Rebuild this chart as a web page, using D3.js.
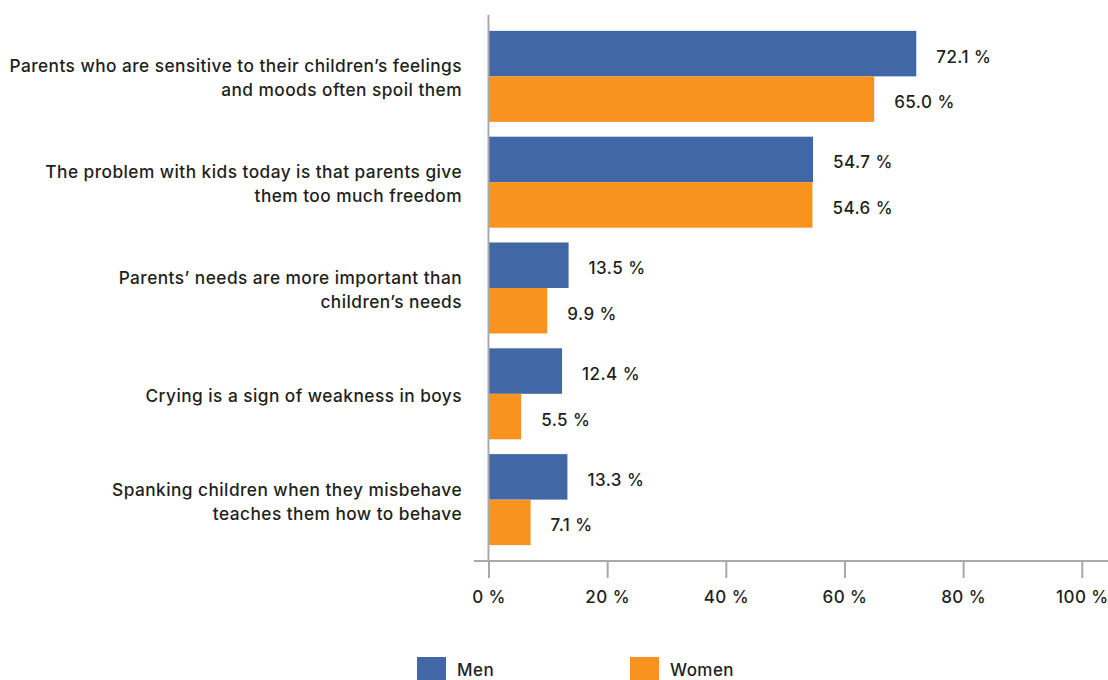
<!DOCTYPE html>
<html>
<head>
<meta charset="utf-8">
<script src="https://cdn.jsdelivr.net/npm/d3@7/dist/d3.min.js"></script>
<style>
  html, body { margin: 0; padding: 0; background: #fff; }
  svg { display: block; }
  text { font-family: Inter, "Noto Sans", sans-serif; fill: #231f20; font-weight: 500; letter-spacing: 0.45px; }
</style>
</head>
<body>
<svg id="chart" width="1108" height="680"></svg>
<script>
// Survey statements (each label split into its display lines)
const categories = [
  ["Parents who are sensitive to their children\u2019s feelings", "and moods often spoil them"],
  ["The problem with kids today is that parents give", "them too much freedom"],
  ["Parents\u2019 needs are more important than", "children\u2019s needs"],
  ["Crying is a sign of weakness in boys"],
  ["Spanking children when they misbehave", "teaches them how to behave"]
];
const seriesNames = ["Men", "Women"];
const menValues = [72.1, 54.7, 13.5, 12.4, 13.3];
const womenValues = [65.0, 54.6, 9.9, 5.5, 7.1];
const tickValues = [0, 20, 40, 60, 80, 100];
const colors = ["#4267a6", "#f7931e"];

const fontSize = 17;
const svg = d3.select("#chart");

const x = d3.scaleLinear().domain([0, 100]).range([488.5, 1081.8]);
const y = d3.scaleBand()
  .domain(d3.range(categories.length))
  .range([15, 561])
  .paddingInner(0.14)
  .paddingOuter(0.15);
const ySub = d3.scaleBand().domain(seriesNames).range([0, y.bandwidth()]);

const series = [menValues, womenValues];
const rows = categories.map((c, i) => ({
  i, lines: c,
  vals: seriesNames.map((s, k) => ({ name: s, k, v: series[k][i] }))
}));

// Bars and value labels
const g = svg.selectAll("g.cat").data(rows).join("g")
  .attr("class", "cat")
  .attr("transform", d => `translate(0,${y(d.i)})`);

g.selectAll("rect").data(d => d.vals).join("rect")
  .attr("x", x(0))
  .attr("y", d => ySub(d.name))
  .attr("width", d => x(d.v) - x(0))
  .attr("height", ySub.bandwidth())
  .attr("fill", d => colors[d.k]);

g.selectAll("text.val").data(d => d.vals).join("text")
  .attr("class", "val")
  .attr("x", d => x(d.v) + 20)
  .attr("y", d => ySub(d.name) + ySub.bandwidth() / 2 + 3)
  .attr("dy", "0.35em")
  .attr("font-size", fontSize)
  .text(d => d.v.toFixed(1) + " %");

// Category labels, right-aligned left of the axis
const lineGap = 24;
g.append("text")
  .attr("class", "cat-label")
  .attr("text-anchor", "end")
  .attr("font-size", 17.3)
  .each(function(d) {
    const t = d3.select(this);
    const n = d.lines.length;
    d.lines.forEach((ln, j) => {
      t.append("tspan")
        .attr("x", 462)
        .attr("y", y.bandwidth() / 2 + 2 + (j - (n - 1) / 2) * lineGap)
        .attr("dy", "0.35em")
        .text(ln);
    });
  });

// Axes
const axisColor = "#a7a9ac";
svg.append("line")
  .attr("x1", x(0)).attr("x2", x(0))
  .attr("y1", 15).attr("y2", 561)
  .attr("stroke", axisColor).attr("stroke-width", 2);

const xAxis = svg.append("g")
  .attr("transform", "translate(0,561)")
  .call(d3.axisBottom(x).tickValues(tickValues).tickSize(17).tickPadding(0)
    .tickFormat(d => d + " %"));
xAxis.select(".domain").remove();
xAxis.selectAll(".tick line").attr("stroke", axisColor).attr("stroke-width", 2);
xAxis.selectAll(".tick text")
  .attr("y", 36)
  .attr("dy", "0.35em")
  .attr("font-size", fontSize)
  .attr("font-family", "Inter, 'Noto Sans', sans-serif")
  .attr("fill", "#231f20");
svg.append("line")
  .attr("x1", 474).attr("x2", 1108)
  .attr("y1", 561).attr("y2", 561)
  .attr("stroke", axisColor).attr("stroke-width", 2);

// Legend
const legend = svg.append("g");
const legendX = [417, 630];
seriesNames.forEach((s, k) => {
  legend.append("rect")
    .attr("x", legendX[k]).attr("y", 657)
    .attr("width", 29).attr("height", 29)
    .attr("fill", colors[k]);
  legend.append("text")
    .attr("x", legendX[k] + 40).attr("y", 676)
    .attr("font-size", fontSize)
    .text(s);
});
</script>
</body>
</html>
